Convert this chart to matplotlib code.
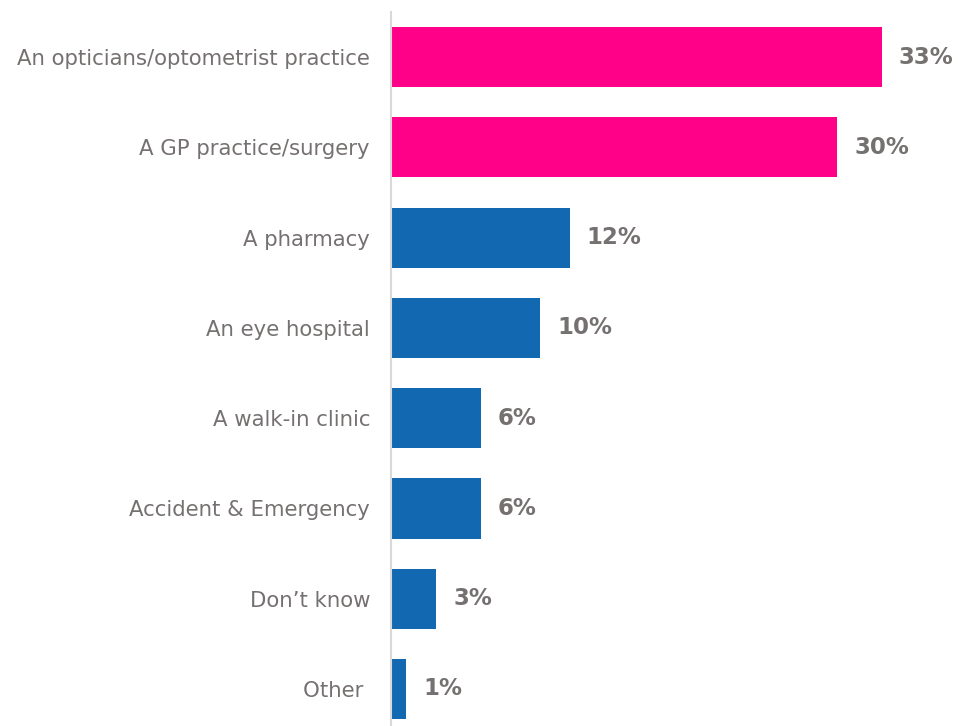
import matplotlib.pyplot as plt

categories = ['An opticians/optometrist practice', 'A GP practice/surgery', 'A pharmacy',
              'An eye hospital', 'A walk-in clinic', 'Accident & Emergency',
              'Don\u2019t know', 'Other ']
values = [33, 30, 12, 10, 6, 6, 3, 1]
highlight = [True, True, False, False, False, False, False, False]

pink = '#FF0088'
blue = '#1368B2'
grey = '#767171'

fig = plt.figure(figsize=(9.58, 7.26), dpi=100)
ax = fig.add_axes([0.408, 0.0, 0.592, 0.9835])

pos = list(range(len(categories)))
colors = [pink if h else blue for h in highlight]
ax.barh(pos, values, height=0.667, color=colors, left=0.05)

# percentage labels just past the end of each bar
for y, v in zip(pos, values):
    ax.text(v + 1.2, y, f'{v}%', va='center', ha='left',
            fontsize=16.5, fontweight='bold', color=grey)

ax.set_yticks(pos)
ax.set_yticklabels(categories, fontsize=15.3, color=grey)
ax.tick_params(axis='y', length=0, pad=15)
ax.set_xticks([])
ax.set_xlim(0, 38.2)
ax.set_ylim(7.41, -0.5)

for s in ['top', 'right', 'bottom']:
    ax.spines[s].set_visible(False)
ax.spines['left'].set_color('#D9D9D9')
ax.spines['left'].set_linewidth(1.5)

fig.savefig('out.png', dpi=100)
